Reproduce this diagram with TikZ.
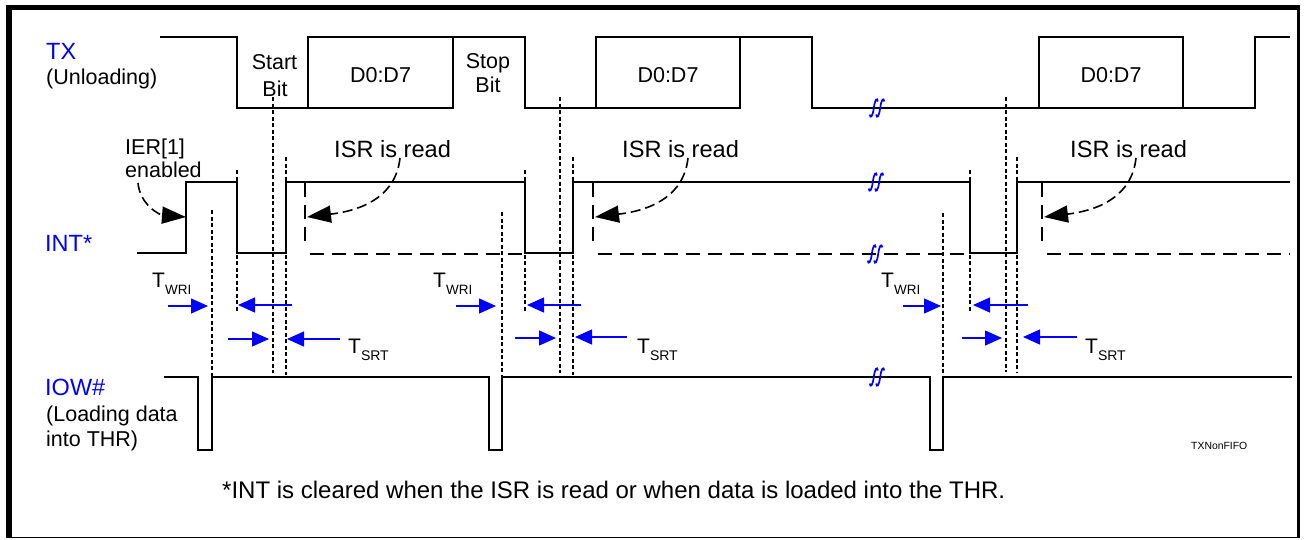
\documentclass[tikz,border=0pt]{standalone}
\usepackage{fontspec}
\setmainfont{Liberation Sans}
\usetikzlibrary{arrows.meta}
\newcommand{\brkmark}[2]{%
  \foreach \dx in {-3.2,3.2} {
    \draw[brk] ({#1+\dx-4},{#2+6.5}) .. controls ({#1+\dx-3.5},{#2+11}) and ({#1+\dx-1.2},{#2+9}) .. ({#1+\dx},{#2}) .. controls ({#1+\dx+1.2},{#2-9}) and ({#1+\dx+3.5},{#2-11}) .. ({#1+\dx+4},{#2-6.5});
  }}
\begin{document}
\begin{tikzpicture}[x=1pt,y=-1pt,
  sig/.style={line width=1.8pt, line join=miter},
  vdot/.style={line width=1.5pt, dash pattern=on 4pt off 2.5pt},
  ldash/.style={line width=1.8pt, dash pattern=on 14pt off 8pt},
  barrow/.style={blue, line width=1.2pt, -{Triangle[length=17pt,width=15pt]}},
  karrow/.style={line width=1.6pt, dash pattern=on 10pt off 5pt, -{Triangle[length=24pt,width=17pt]}},
  brk/.style={blue, line width=1.7pt},
  lbl/.style={inner sep=0pt, anchor=base west, font=\fontsize{21.5}{26}\selectfont},
  clbl/.style={inner sep=0pt, anchor=base, font=\fontsize{21.5}{26}\selectfont},
  blbl/.style={inner sep=0pt, anchor=base west, text=blue, font=\fontsize{23.5}{28}\selectfont},
  isr/.style={inner sep=0pt, anchor=base west, font=\fontsize{23.6}{28}\selectfont},
  tlbl/.style={inner sep=0pt, anchor=base west, font=\fontsize{21}{21}\selectfont},
]
\useasboundingbox (0,0) rectangle (1304,539);
\fill[white] (0,0) rectangle (1304,539);
% frame
\draw[line width=6pt] (9,5) -- (9,538);
\draw[line width=5pt] (6,7.5) -- (1300,7.5);
\draw[line width=3pt] (1298,5) -- (1298,538);
\draw[line width=1.5pt] (6,537.5) -- (1299,537.5);

% TX waveform
\draw[sig] (160,37) -- (237,37) -- (237,108) -- (453,108) -- (453,37);
\draw[sig] (308,108) -- (308,37) -- (525,37) -- (525,108) -- (740,108) -- (740,37);
\draw[sig] (596,108) -- (596,37) -- (812,37) -- (812,108) -- (1255,108) -- (1255,37) -- (1290,37);
\draw[sig] (1039,108) -- (1039,37) -- (1183,37) -- (1183,108);

% INT waveform
\draw[sig] (137,253) -- (186,253) -- (186,182) -- (237,182) -- (237,253) -- (286,253) -- (286,182) -- (525,182) -- (525,253) -- (573,253) -- (573,182) -- (970,182) -- (970,253) -- (1017,253) -- (1017,182) -- (1290,182);
\draw[ldash] (305,183) -- (305,248);
\draw[ldash] (310,254) -- (522,254);
\draw[ldash] (593,183) -- (593,248);
\draw[ldash] (598,254) -- (968,254);
\draw[ldash] (1042,183) -- (1042,248);
\draw[ldash] (1047,254) -- (1290,254);

% IOW waveform
\draw[sig] (164,377) -- (198,377) -- (198,450) -- (212,450) -- (212,377) -- (489,377) -- (489,450) -- (502,450) -- (502,377) -- (930,377) -- (930,450) -- (943,450) -- (943,377) -- (1292,377);

% vertical dotted guides
\draw[vdot] (212,210) -- (212,377);
\draw[vdot] (237,170) -- (237,312);
\draw[vdot] (273,97) -- (273,373);
\draw[vdot] (286,157) -- (286,375);
\draw[vdot] (502,212) -- (502,377);
\draw[vdot] (525,170) -- (525,312);
\draw[vdot] (560,97) -- (560,373);
\draw[vdot] (573,157) -- (573,375);
\draw[vdot] (943,213) -- (943,377);
\draw[vdot] (970,170) -- (970,312);
\draw[vdot] (1006,97) -- (1006,372);
\draw[vdot] (1017,157) -- (1017,372);

% break marks
\brkmark{877}{108}
\brkmark{876}{182}
\brkmark{875}{254}
\brkmark{877}{377}

% blue timing arrows
\coordinate (a1s) at (168,306); \coordinate (a1e) at (208,306);
\coordinate (a2s) at (292,305); \coordinate (a2e) at (238,305);
\coordinate (a3s) at (228,339); \coordinate (a3e) at (269,339);
\coordinate (a4s) at (340,339); \coordinate (a4e) at (287,339);
\coordinate (b1s) at (456,306); \coordinate (b1e) at (496,306);
\coordinate (b2s) at (581,305); \coordinate (b2e) at (527,305);
\coordinate (b3s) at (515,338); \coordinate (b3e) at (556,338);
\coordinate (b4s) at (627,337); \coordinate (b4e) at (575,337);
\coordinate (c1s) at (903,306); \coordinate (c1e) at (941,306);
\coordinate (c2s) at (1028,305); \coordinate (c2e) at (973,305);
\coordinate (c3s) at (962,338); \coordinate (c3e) at (1002,338);
\coordinate (c4s) at (1077,337); \coordinate (c4e) at (1023,337);
\foreach \p in {a1,a2,a3,a4,b1,b2,b3,b4,c1,c2,c3,c4} \draw[barrow] (\p s) -- (\p e);

% black dashed curved arrows
\coordinate (k1s) at (400,158); \coordinate (k1e) at (307,217);
\coordinate (k2s) at (688,158); \coordinate (k2e) at (595,217);
\coordinate (k3s) at (1136,158); \coordinate (k3e) at (1044,217);
\coordinate (k4s) at (138,183); \coordinate (k4e) at (186,217);
\draw[karrow] (k1s) .. controls (396,195) and (365,210) .. (k1e);
\draw[karrow] (k2s) .. controls (684,195) and (653,210) .. (k2e);
\draw[karrow] (k3s) .. controls (1132,195) and (1101,210) .. (k3e);
\draw[karrow] (k4s) .. controls (140,205) and (160,215) .. (k4e);

% labels
\node[blbl] (tx) at (46,59) {TX};
\node[lbl] (unl) at (46,84) {(Unloading)};
\node[clbl] (st1) at (274.5,69) {Start};
\node[clbl] (st2) at (275,96) {Bit};
\node[clbl] (sp1) at (488,68) {Stop};
\node[clbl] (sp2) at (488,92) {Bit};
\node[clbl] (d1) at (380.5,82) {D0:D7};
\node[clbl] (d2) at (668,82) {D0:D7};
\node[clbl] (d3) at (1111,82) {D0:D7};
\node[lbl] (ier1) at (125,154) {IER[1]};
\node[lbl] (ier2) at (125,177) {enabled};
\node[blbl] (int) at (45,251) {INT*};
\node[isr] (isr1) at (334,157) {ISR is read};
\node[isr] (isr2) at (622,157) {ISR is read};
\node[isr] (isr3) at (1070,157) {ISR is read};
\node[tlbl] (tw1) at (152,287) {T\raisebox{-7pt}{\fontsize{13.5}{13.5}\selectfont WRI}};
\node[tlbl] (tw2) at (433,287) {T\raisebox{-7pt}{\fontsize{13.5}{13.5}\selectfont WRI}};
\node[tlbl] (tw3) at (881,287) {T\raisebox{-7pt}{\fontsize{13.5}{13.5}\selectfont WRI}};
\node[tlbl] (ts1) at (348,353) {T\raisebox{-7pt}{\fontsize{14}{14}\selectfont SRT}};
\node[tlbl] (ts2) at (637,353) {T\raisebox{-7pt}{\fontsize{14}{14}\selectfont SRT}};
\node[tlbl] (ts3) at (1085,353) {T\raisebox{-7pt}{\fontsize{14}{14}\selectfont SRT}};
\node[blbl] (iow) at (45,395) {IOW\#};
\node[lbl] (ld1) at (46,421) {(Loading data};
\node[lbl] (ld2) at (46,446) {into THR)};
\node[inner sep=0pt, anchor=base west, font=\fontsize{10.4}{12}\selectfont] (fig) at (1191,449) {TXNonFIFO};
\node[inner sep=0pt, anchor=base west, font=\fontsize{24}{28}\selectfont] (note) at (222,498) {*INT is cleared when the ISR is read or when data is loaded into the THR.};
\end{tikzpicture}
\end{document}
